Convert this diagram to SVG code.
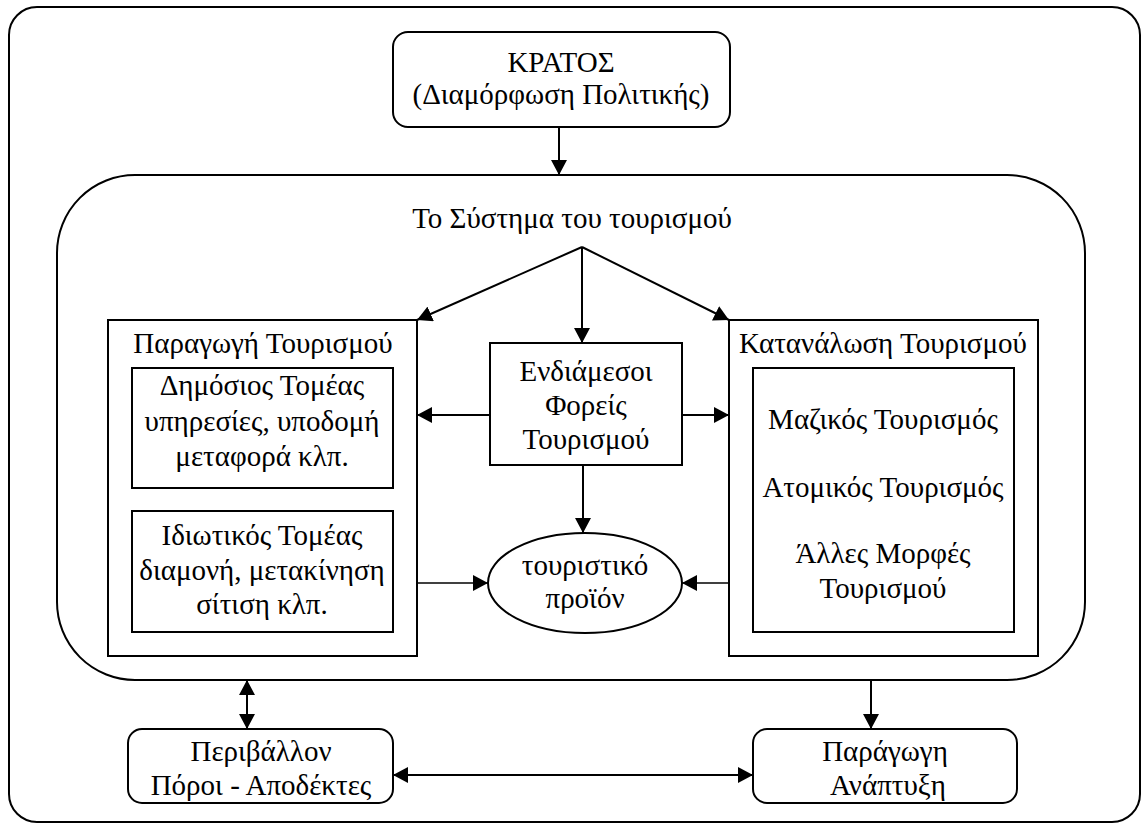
<svg xmlns="http://www.w3.org/2000/svg" width="1143" height="825" viewBox="0 0 1143 825">
<defs>
<marker id="ah" viewBox="0 0 15 16" refX="15" refY="8" markerWidth="15" markerHeight="16" orient="auto-start-reverse" markerUnits="userSpaceOnUse">
<path d="M0,0 L15,8 L0,16 z" fill="#000"/>
</marker>
</defs>
<style>
.b{fill:#fff;stroke:#000;stroke-width:2}
.f{fill:none;stroke:#000;stroke-width:2}
.c{fill:none;stroke:#000;stroke-width:2}
text{font-family:'Liberation Serif','DejaVu Serif',serif;font-size:29px;fill:#000;text-anchor:middle}
</style>
<rect width="1143" height="825" fill="#fff"/>
<g id="frame"><rect class="f" x="9" y="7" width="1131" height="815" rx="28" ry="28"/></g>
<g id="system">
<rect class="f" x="57" y="175" width="1028" height="505" rx="78" ry="78"/>
<text x="572" y="228">Το Σύστημα του τουρισμού</text>
</g>
<g id="kratos">
<rect class="b" x="393" y="32" width="337" height="95" rx="15" ry="15"/>
<text x="561" y="72">ΚΡΑΤΟΣ</text>
<text x="561" y="104">(Διαμόρφωση Πολιτικής)</text>
</g>
<g id="production">
<rect class="b" x="108" y="320" width="309" height="336"/>
<text x="263" y="353">Παραγωγή Τουρισμού</text>
</g>
<g id="public">
<rect class="b" x="132" y="368" width="261" height="120"/>
<text x="262" y="395">Δημόσιος Τομέας</text>
<text x="262" y="431">υπηρεσίες, υποδομή</text>
<text x="262" y="466">μεταφορά κλπ.</text>
</g>
<g id="private">
<rect class="b" x="132" y="511" width="261" height="121"/>
<text x="262" y="545">Ιδιωτικός Τομέας</text>
<text x="262" y="580">διαμονή, μετακίνηση</text>
<text x="262" y="614">σίτιση κλπ.</text>
</g>
<g id="intermediaries">
<rect class="b" x="490" y="343" width="192" height="122"/>
<text x="586" y="381">Ενδιάμεσοι</text>
<text x="586" y="415">Φορείς</text>
<text x="586" y="449">Τουρισμού</text>
</g>
<g id="consumption">
<rect class="b" x="729" y="320" width="309" height="336"/>
<text x="883" y="353">Κατανάλωση Τουρισμού</text>
</g>
<g id="types">
<rect class="b" x="753" y="368" width="261" height="264"/>
<text x="883" y="429">Μαζικός Τουρισμός</text>
<text x="883" y="497">Ατομικός Τουρισμός</text>
<text x="883" y="563">Άλλες Μορφές</text>
<text x="883" y="598">Τουρισμού</text>
</g>
<g id="product">
<ellipse class="b" cx="585" cy="583" rx="97" ry="50"/>
<text x="585" y="575">τουριστικό</text>
<text x="585" y="608">προϊόν</text>
</g>
<g id="environment">
<rect class="b" x="128" y="729" width="265" height="74" rx="14" ry="14"/>
<text x="261" y="761">Περιβάλλον</text>
<text x="261" y="795">Πόροι - Αποδέκτες</text>
</g>
<g id="development">
<rect class="b" x="753" y="729" width="264" height="74" rx="14" ry="14"/>
<text x="885" y="761">Παράγωγη</text>
<text x="888" y="795">Ανάπτυξη</text>
</g>
<g id="connectors">
<line class="c" x1="559" y1="127" x2="559" y2="175" marker-end="url(#ah)"/>
<line class="c" x1="582" y1="247" x2="417" y2="320" marker-end="url(#ah)"/>
<line class="c" x1="582" y1="247" x2="582" y2="343" marker-end="url(#ah)"/>
<line class="c" x1="582" y1="247" x2="729" y2="320" marker-end="url(#ah)"/>
<line class="c" x1="490" y1="415" x2="417" y2="415" marker-end="url(#ah)"/>
<line class="c" x1="682" y1="415" x2="729" y2="415" marker-end="url(#ah)"/>
<line class="c" x1="583" y1="465" x2="583" y2="533" marker-end="url(#ah)"/>
<line class="c" x1="417" y1="583" x2="488" y2="583" marker-end="url(#ah)" style="stroke-width:1.5"/>
<line class="c" x1="729" y1="583" x2="682" y2="583" marker-end="url(#ah)" style="stroke-width:1.5"/>
<line class="c" x1="247" y1="680" x2="247" y2="729" marker-start="url(#ah)" marker-end="url(#ah)"/>
<line class="c" x1="871" y1="680" x2="871" y2="729" marker-end="url(#ah)"/>
<line class="c" x1="393" y1="775" x2="753" y2="775" marker-start="url(#ah)" marker-end="url(#ah)"/>
</g>
</svg>
